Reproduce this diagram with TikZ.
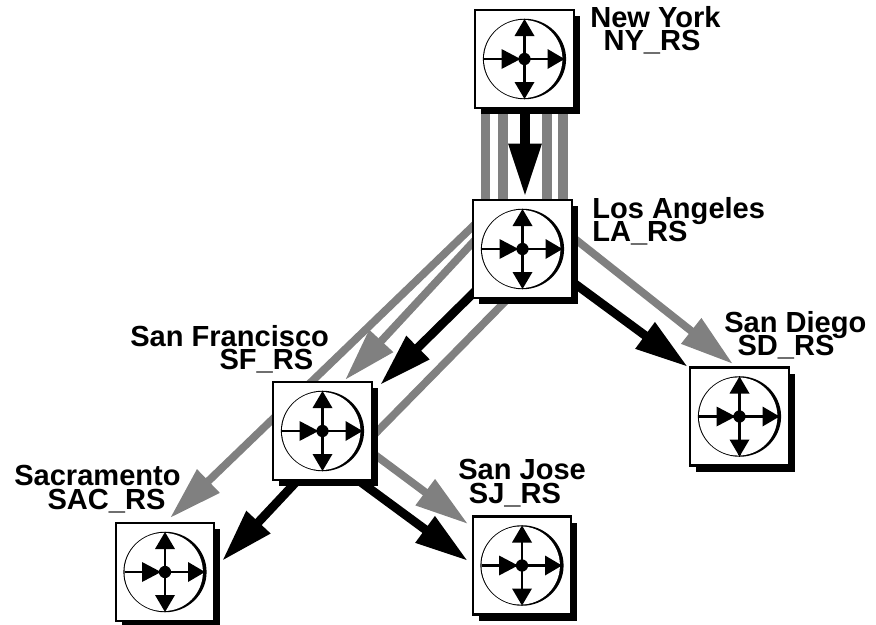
\documentclass[tikz,border=0pt]{standalone}
\usepackage{fontspec}
\setmainfont{Liberation Sans}
\usetikzlibrary{arrows.meta,shadows,backgrounds}
\newcommand{\nodepth}[1]{\raisebox{0pt}[\height][0pt]{#1}}
\tikzset{
  x=0.75pt,y=-0.75pt,
  routerbox/.style={draw=black,fill=white,line width=1.6pt,minimum width=74pt,minimum height=73.5pt,inner sep=0pt,outer sep=0pt,
    general shadow={fill=black,shadow xshift=4.6pt,shadow yshift=-4.8pt}},
  place/.style={anchor=north west,align=left,inner sep=0pt,font=\fontsize{21.8pt}{17.6pt}\selectfont\bfseries},
  grayline/.style={draw=black!50,line width=5.8pt},
  grayarrow/.style={grayline,-{Triangle[length=40pt,width=23pt]}},
  blackarrow/.style={draw=black,line width=6.6pt,-{Triangle[length=40pt,width=23pt]}},
  router/.pic={
    \fill[black] (0,0) ellipse [x radius=31.2pt,y radius=30.2pt];
    \fill[white] (-1.3,0) ellipse [x radius=29.4pt,y radius=29.3pt];
    \draw[line width=2pt,line cap=butt] (-40.5,0) -- (38,0) (0,-38) -- (0,38);
    \fill (0,0) circle [radius=4.6pt];
    \fill (-23,-10) -- (-4,0) -- (-23,10) -- cycle;
    \fill (23,-10) -- (40,0) -- (23,10) -- cycle;
    \fill (-10,-23) -- (0,-40) -- (10,-23) -- cycle;
    \fill (-10,23) -- (0,40) -- (10,23) -- cycle;
  }
}
\begin{document}
\begin{tikzpicture}
\useasboundingbox (0,0) rectangle (876,625);
\node[routerbox] (ny) at (524.5,59) {};
\node[routerbox] (la) at (522.5,249) {};
\node[routerbox] (sf) at (322.5,431) {};
\node[routerbox] (sac) at (165,572) {};
\node[routerbox] (sj) at (522,565.5) {};
\node[routerbox] (sd) at (739.5,416.5) {};
\pic at (ny) {router};
\pic at (la) {router};
\pic at (sf) {router};
\pic at (sac) {router};
\pic at (sj) {router};
\pic at (sd) {router};
\node[place] (nylabel) at (590,6) {New York\\\hspace*{10pt}NY\_RS};
\node[place] (lalabel) at (592,197) {\nodepth{Los Angeles}\\LA\_RS};
\node[place] (sflabel) at (130,325) {San Francisco\\\hspace*{67pt}SF\_RS};
\node[place] (saclabel) at (14,465) {Sacramento\\\hspace*{25pt}SAC\_RS};
\node[place] (sdlabel) at (724,311) {\nodepth{San Diego}\\\hspace*{10pt}SD\_RS};
\node[place] (sjlabel) at (458,459) {San Jose\\\hspace*{8pt}SJ\_RS};
\begin{scope}[on background layer]
\foreach \a/\b in {-39/-37,-21.5/-19.5,22.5/24.5,38.5/40.5}
  \draw[grayline,line width=6.8pt] ([shift={(\a,40)}]ny.center) -- ([shift={(\b,-40)}]la.center);
\draw[grayarrow] ([shift={(-40,-32)}]la.center) -- ([shift={(5,-54)}]sac.center);
\draw[grayarrow] ([shift={(-40,-17)}]la.center) -- ([shift={(22.5,-51)}]sf.center);
\draw[grayline] ([shift={(-10,45)}]la.center) -- ([shift={(42.5,13)}]sf.center);
\draw[grayarrow] ([shift={(50,22)}]sf.center) -- ([shift={(-54,-41.5)}]sj.center);
\draw[grayarrow] ([shift={(50,-12)}]la.center) -- ([shift={(-6.5,-52.5)}]sd.center);
\draw[blackarrow,line width=7.4pt] ([shift={(0.5,40)}]ny.center) -- ([shift={(2.5,-52)}]la.center);
\draw[blackarrow] ([shift={(-45,40)}]la.center) -- ([shift={(57.5,-46)}]sf.center);
\draw[blackarrow] ([shift={(50,33)}]la.center) -- ([shift={(-51.5,-49.5)}]sd.center);
\draw[blackarrow] ([shift={(-25.5,50)}]sf.center) -- ([shift={(57,-11)}]sac.center);
\draw[blackarrow] ([shift={(30,45)}]sf.center) -- ([shift={(-54,-4.5)}]sj.center);
\end{scope}
\end{tikzpicture}
\end{document}
